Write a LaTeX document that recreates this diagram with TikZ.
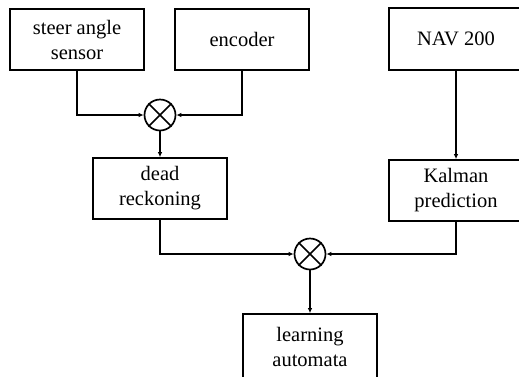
\documentclass[tikz,border=0pt]{standalone}
\usepackage{fontspec}
\setmainfont{Liberation Serif}
\usetikzlibrary{arrows.meta}
\begin{document}
\begin{tikzpicture}[x=1pt,y=-1pt,
  block/.style={draw,line width=1.7pt,minimum width=134pt,minimum height=61pt,
    inner sep=0pt,align=center,font=\fontsize{20.5}{25}\selectfont},
  mixer/.style={draw,circle,line width=1.7pt,minimum size=31pt,inner sep=0pt},
  link/.style={line width=1.2pt,-{Latex[length=5pt,width=4.5pt]}}]
\useasboundingbox (0,0) rectangle (519,376);
\clip (0,0) rectangle (519,376);

% sensor blocks
\node[block] (sas) at (77,39.5) {steer angle\\sensor};
\node[block] (enc) at (242,39.5) {encoder};
\node[block,minimum height=62pt] (nav) at (456,39) {NAV 200};

% processing blocks
\node[block] (dr) at (160,188.5) {dead\\reckoning};
\node[block] (kal) at (456,190.5) {Kalman\\prediction};
\node[block,minimum height=66pt] (la) at (310,347) {learning\\automata};

% combiners
\node[mixer] (c1) at (160,115) {};
\node[mixer] (c2) at (310,254) {};
\foreach \c in {c1,c2}{
  \draw[line width=1.6pt] (\c.north west) -- (\c.south east)
                          (\c.north east) -- (\c.south west);
}

% connections
\draw[link] (sas.south) |- (c1.west);
\draw[link] (enc.south) |- (c1.east);
\draw[link] (c1.south) -- (dr.north);
\draw[link] (nav.south) -- (kal.north);
\draw[link] (dr.south) |- (c2.west);
\draw[link] (kal.south) |- (c2.east);
\draw[link] (c2.south) -- (la.north);
\end{tikzpicture}
\end{document}
